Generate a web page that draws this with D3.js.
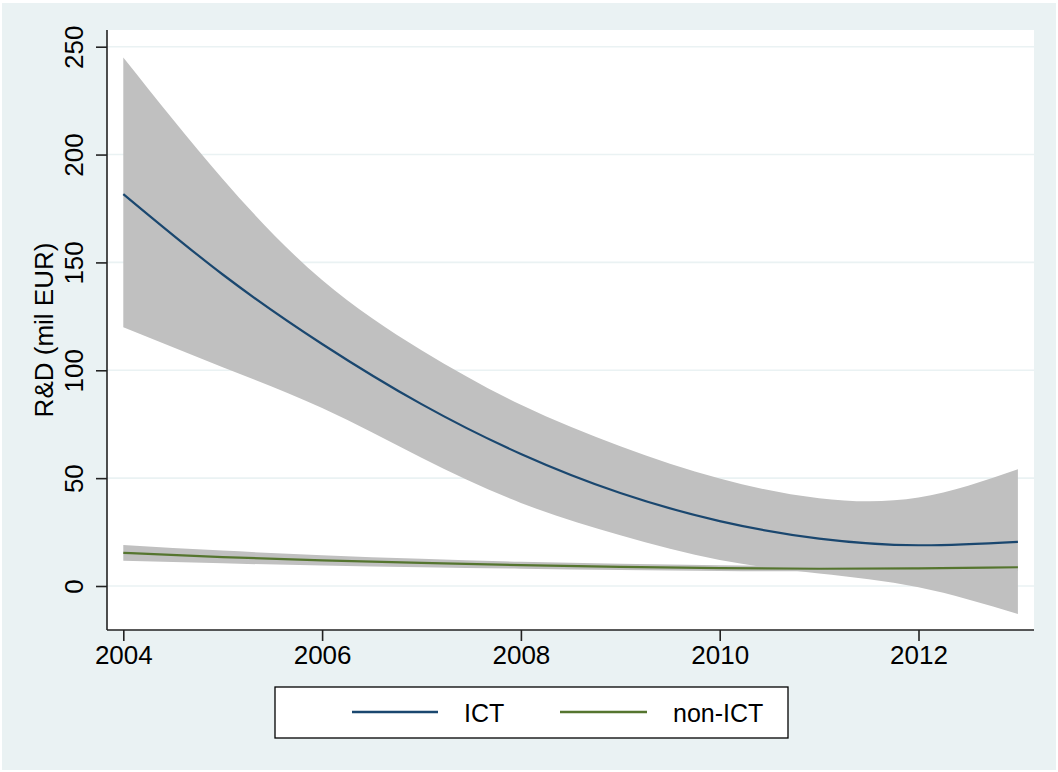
<!DOCTYPE html>
<html>
<head>
<meta charset="utf-8">
<script src="https://cdn.jsdelivr.net/npm/d3@7"></script>
<style>
  html, body { margin: 0; padding: 0; background: #ffffff; }
  svg { display: block; }
  text { font-family: "Liberation Sans", Arial, sans-serif; fill: #000; }
</style>
</head>
<body>
<svg id="chart" width="1058" height="772"></svg>
<script>
// ---- data ----
const years = [2004, 2005, 2006, 2007, 2008, 2009, 2010, 2011, 2012, 2013];
const ictFit   = [181.7, 144.4, 112.2, 84.3, 61.2, 43.1, 30.1, 22.0, 18.9, 20.5];
const ictUpper = [245.0, 188.7, 141.8, 109.3, 84.0, 64.8, 49.8, 40.7, 41.0, 54.1];
const ictLower = [119.9, 101.4, 82.5, 59.5, 38.5, 23.5, 12.0, 5.8, -0.6, -13.0];
const nonFit   = [15.4, 13.4, 11.9, 10.7, 9.7, 8.9, 8.3, 8.0, 8.2, 8.7];
const nonUpper = [19.0, 16.4, 14.3, 12.6, 11.2, 10.3, 9.6, 9.3, 9.6, 10.4];
const nonLower = [11.7, 10.5, 9.5, 8.7, 8.0, 7.4, 7.0, 6.8, 6.8, 7.0];
const yTicks = [0, 50, 100, 150, 200, 250];
const xTicks = [2004, 2006, 2008, 2010, 2012];
const seriesNames = ["ICT", "non-ICT"];
const yTitle = "R&D (mil EUR)";

// ---- layout ----
const W = 1058, H = 772;
const plot = { left: 107, right: 1034, top: 30, bottom: 630 };
const colors = { ict: "#1a476f", non: "#55752f", band: "#c0c0c0", bg: "#eaf2f3", grid: "#eaf2f3" };
const FS = 26;

const svg = d3.select("#chart");

// outer background
svg.append("rect").attr("x", 2).attr("y", 3).attr("width", W - 4).attr("height", H - 5)
  .attr("fill", colors.bg);
// plot region
svg.append("rect").attr("x", plot.left).attr("y", plot.top)
  .attr("width", plot.right - plot.left).attr("height", plot.bottom - plot.top)
  .attr("fill", "#ffffff");

const x = d3.scaleLinear().domain([2004, 2012]).range([123.3, 918.5]);
const y = d3.scaleLinear().domain([0, 250]).range([586, 46.7]);

// gridlines
svg.append("g").selectAll("line").data(yTicks).join("line")
  .attr("x1", plot.left).attr("x2", plot.right)
  .attr("y1", d => y(d)).attr("y2", d => y(d))
  .attr("stroke", colors.grid).attr("stroke-width", 1.6);

const curve = d3.curveNatural;
const idx = d3.range(years.length);
const area = (lo, hi) => d3.area().curve(curve)
  .x(i => x(years[i])).y0(i => y(lo[i])).y1(i => y(hi[i]));
const line = (v) => d3.line().curve(curve).x(i => x(years[i])).y(i => y(v[i]));

svg.append("path").datum(idx).attr("d", area(ictLower, ictUpper)).attr("fill", colors.band);
svg.append("path").datum(idx).attr("d", area(nonLower, nonUpper)).attr("fill", colors.band);
svg.append("path").datum(idx).attr("d", line(ictFit)).attr("fill", "none")
  .attr("stroke", colors.ict).attr("stroke-width", 2.2);
svg.append("path").datum(idx).attr("d", line(nonFit)).attr("fill", "none")
  .attr("stroke", colors.non).attr("stroke-width", 2.2);

// y axis
const yAxis = svg.append("g").attr("transform", `translate(${plot.left},0)`)
  .call(d3.axisLeft(y).tickValues(yTicks).tickSize(11).tickSizeOuter(0).tickFormat(d3.format("d")));
yAxis.select(".domain").remove();
yAxis.append("line").attr("x1", 0).attr("x2", 0).attr("y1", plot.top).attr("y2", plot.bottom)
  .attr("stroke", "#222").attr("stroke-width", 1.6);
yAxis.selectAll(".tick line").attr("stroke", "#222").attr("stroke-width", 1.6);
yAxis.selectAll(".tick text")
  .attr("x", null).attr("dy", null)
  .attr("transform", "translate(-24,0) rotate(-90)")
  .attr("text-anchor", "middle")
  .style("font-family", '"Liberation Sans", Arial, sans-serif')
  .style("font-size", FS + "px").attr("fill", "#000");

// x axis
const xAxis = svg.append("g").attr("transform", `translate(0,${plot.bottom})`)
  .call(d3.axisBottom(x).tickValues(xTicks).tickSize(11).tickSizeOuter(0).tickFormat(d3.format("d")));
xAxis.select(".domain").remove();
xAxis.append("line").attr("x1", plot.left).attr("x2", plot.right).attr("y1", 0).attr("y2", 0)
  .attr("stroke", "#222").attr("stroke-width", 1.6);
xAxis.selectAll(".tick line").attr("stroke", "#222").attr("stroke-width", 1.6);
xAxis.selectAll(".tick text")
  .attr("y", 34).attr("dy", null)
  .style("font-family", '"Liberation Sans", Arial, sans-serif')
  .style("font-size", FS + "px").attr("fill", "#000");

// y title
svg.append("text").attr("transform", `translate(52.5,${(plot.top + plot.bottom) / 2}) rotate(-90)`)
  .attr("text-anchor", "middle").style("font-size", FS + "px").text(yTitle);

// legend
const lg = svg.append("g");
lg.append("rect").attr("x", 275).attr("y", 687).attr("width", 513).attr("height", 51)
  .attr("fill", "#fff").attr("stroke", "#000").attr("stroke-width", 1.3);
const legendItems = [
  { name: seriesNames[0], color: colors.ict, x1: 352, x2: 438, tx: 464 },
  { name: seriesNames[1], color: colors.non, x1: 560, x2: 647, tx: 673 }
];
legendItems.forEach(it => {
  lg.append("line").attr("x1", it.x1).attr("x2", it.x2).attr("y1", 712).attr("y2", 712)
    .attr("stroke", it.color).attr("stroke-width", 2.4);
  lg.append("text").attr("x", it.tx).attr("y", 721.5).style("font-size", "25px").text(it.name);
});
</script>
</body>
</html>
